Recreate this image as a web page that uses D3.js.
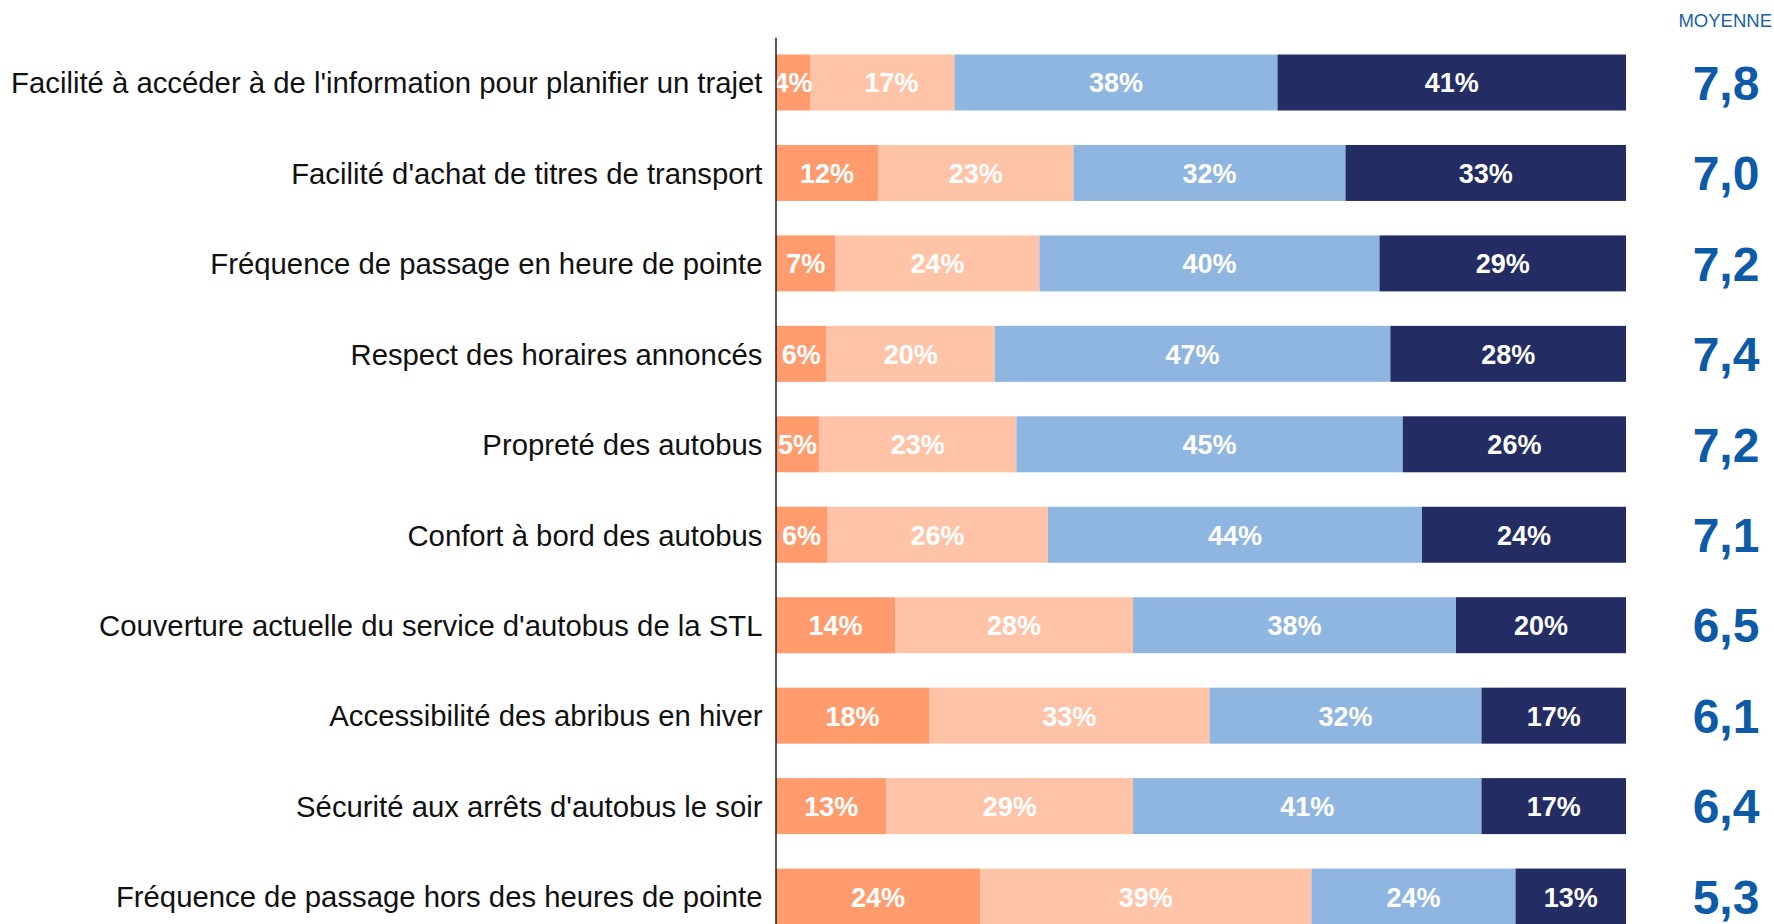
<!DOCTYPE html>
<html>
<head>
<meta charset="utf-8">
<script src="https://cdn.jsdelivr.net/npm/d3@7"></script>
<style>
  html, body { margin: 0; padding: 0; background: #ffffff; }
  svg { display: block; }
</style>
</head>
<body>
<svg id="chart" width="1774" height="924"></svg>
<script>
const categories = [
  "Facilité à accéder à de l'information pour planifier un trajet",
  "Facilité d'achat de titres de transport",
  "Fréquence de passage en heure de pointe",
  "Respect des horaires annoncés",
  "Propreté des autobus",
  "Confort à bord des autobus",
  "Couverture actuelle du service d'autobus de la STL",
  "Accessibilité des abribus en hiver",
  "Sécurité aux arrêts d'autobus le soir",
  "Fréquence de passage hors des heures de pointe"
];
const seriesNames = ["0 à 4", "5 à 6", "7 à 8", "9 à 10"];
const score0to4 = [4, 12, 7, 6, 5, 6, 14, 18, 13, 24];
const score5to6 = [17, 23, 24, 20, 23, 26, 28, 33, 29, 39];
const score7to8 = [38, 32, 40, 47, 45, 44, 38, 32, 41, 24];
const score9to10 = [41, 33, 29, 28, 26, 24, 20, 17, 17, 13];
const moyennes = [7.8, 7.0, 7.2, 7.4, 7.2, 7.1, 6.5, 6.1, 6.4, 5.3];
const moyenneTitle = "MOYENNE";
const colors = ["#ff9b6d", "#ffc3a7", "#8fb6e0", "#232c63"];

const allSeries = [score0to4, score5to6, score7to8, score9to10];
const table = categories.map((c, i) => {
  const row = { category: c };
  seriesNames.forEach((s, k) => { row[s] = allSeries[k][i]; });
  return row;
});

const FONT = "'Liberation Sans', Arial, Helvetica, sans-serif";
const svg = d3.select("#chart");
const step = 90.45;
const firstCenter = 82.5;
const y = d3.scaleBand()
  .domain(categories)
  .range([firstCenter - step / 2, firstCenter + step * (categories.length - 0.5)])
  .paddingInner(0.381)
  .paddingOuter(0.1905);
const x = d3.scaleLinear().domain([0, 1]).range([776, 1626]);
const color = d3.scaleOrdinal().domain(seriesNames).range(colors);

const stacked = d3.stack().keys(seriesNames).offset(d3.stackOffsetExpand)(table);

const layers = svg.append("g").selectAll("g")
  .data(stacked).join("g")
  .attr("fill", d => color(d.key));

layers.selectAll("rect")
  .data(d => d.map(p => ({ p, key: d.key })))
  .join("rect")
  .attr("x", d => x(d.p[0]))
  .attr("width", d => x(d.p[1]) - x(d.p[0]))
  .attr("y", d => y(d.p.data.category))
  .attr("height", y.bandwidth());

const labels = svg.append("g");
const labelGap = 52;
categories.forEach((c, i) => {
  let prevRight = -Infinity;
  let prevOverflow = false;
  stacked.forEach(layer => {
    const p = layer[i];
    const x0 = x(p[0]), x1 = x(p[1]);
    const t = labels.append("text")
      .attr("y", y(c) + y.bandwidth() / 2)
      .attr("dy", "0.37em")
      .attr("text-anchor", "middle")
      .attr("fill", "#ffffff")
      .attr("font-family", FONT)
      .attr("font-weight", "bold")
      .attr("font-size", "27px")
      .text(p.data[layer.key] + "%");
    const w = t.node().getComputedTextLength();
    let cx = (x0 + x1) / 2;
    if (prevOverflow && cx - w / 2 < prevRight + labelGap) {
      cx = Math.min(prevRight + labelGap + w / 2, x1 - w / 2);
    }
    t.attr("x", cx);
    prevOverflow = w > (x1 - x0);
    prevRight = cx + w / 2;
  });
});

// Y axis
const axis = svg.append("g")
  .attr("transform", "translate(775.5,0)")
  .call(d3.axisLeft(y).tickSize(0).tickPadding(13));
axis.select(".domain").attr("stroke", "#000").attr("stroke-width", 1.3);
axis.selectAll(".tick text")
  .attr("font-family", FONT)
  .attr("font-size", "29.3px")
  .attr("fill", "#111")
  .attr("dy", "0.37em");

// Moyennes
const fr = d3.formatLocale({ decimal: ",", thousands: " ", grouping: [3], currency: ["", " $"] });
const fmt = fr.format(".1f");
svg.append("text")
  .attr("x", 1772)
  .attr("y", 27)
  .attr("text-anchor", "end")
  .attr("font-family", FONT)
  .attr("font-size", "18.5px")
  .attr("fill", "#1a5fa8")
  .text(moyenneTitle);

svg.append("g").selectAll("text")
  .data(categories)
  .join("text")
  .attr("x", 1726)
  .attr("y", d => y(d) + y.bandwidth() / 2)
  .attr("dy", "0.36em")
  .attr("text-anchor", "middle")
  .attr("font-family", FONT)
  .attr("font-weight", "bold")
  .attr("font-size", "48px")
  .attr("fill", "#0d5aa7")
  .text((d, i) => fmt(moyennes[i]));
</script>
</body>
</html>
